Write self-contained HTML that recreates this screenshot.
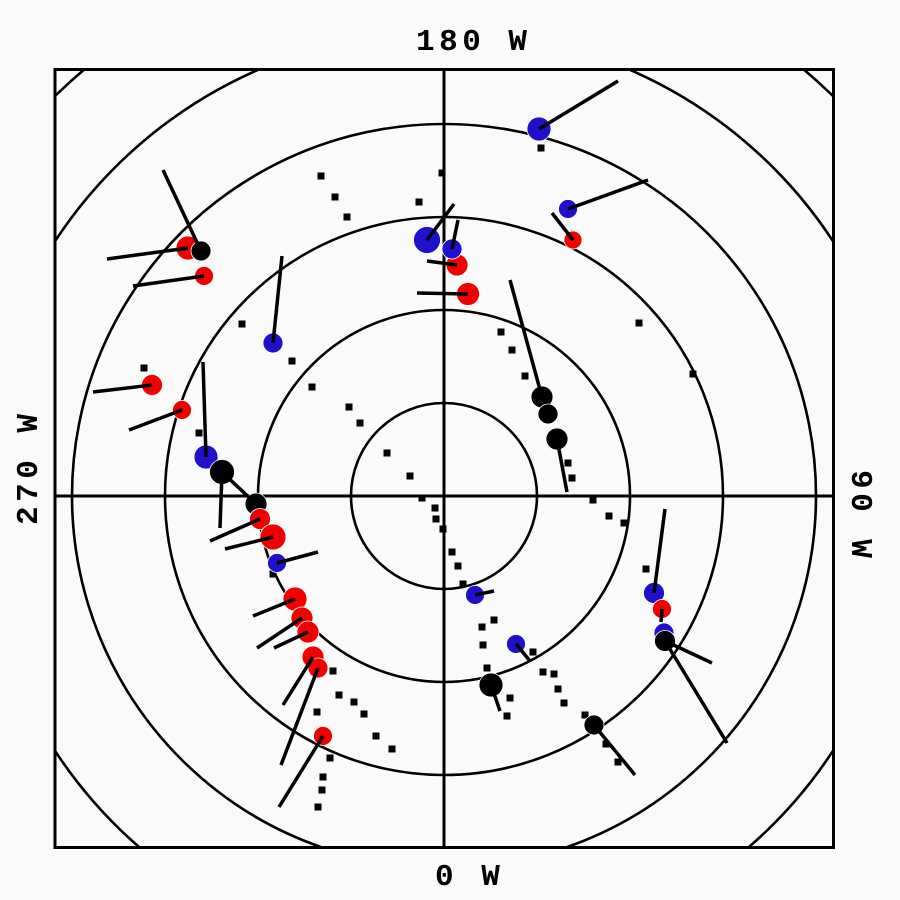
<!DOCTYPE html>
<html>
<head>
<meta charset="utf-8">
<style>
html,body{margin:0;padding:0;background:#fafafa;width:900px;height:900px;overflow:hidden;position:relative;}
svg{display:block;position:absolute;left:0;top:0;}
text{font-family:"Liberation Mono","DejaVu Sans Mono",monospace;font-weight:bold;font-size:31px;fill:#000;letter-spacing:4.5px;}
</style>
</head>
<body>
<svg width="900" height="900" viewBox="0 0 900 900" xmlns="http://www.w3.org/2000/svg">
<rect width="900" height="900" fill="#fafafa"/>
<g fill="none" stroke="#000" stroke-width="2.6">
<circle cx="444" cy="496" r="93"/><circle cx="444" cy="496" r="186"/><circle cx="444" cy="496" r="279"/>
<path d="M567.2 847A372 372 0 1 0 320.8 847"/>
<path d="M257.6 70A465 465 0 0 0 55 241.2M55 750.8A465 465 0 0 0 139 847M749 847A465 465 0 0 0 833 750.8M833 241.2A465 465 0 0 0 630.4 70"/>
<path d="M83.6 70A558 558 0 0 0 55 96M833 96A558 558 0 0 0 804.4 70"/>
<path d="M55 496H833M444 70V847" stroke-width="3"/>
</g>
<rect x="55" y="69.5" width="778.5" height="778" fill="none" stroke="#000" stroke-width="3"/>
<path fill="#000" d="M317.5 172.5h7v7h-7zM331.5 193.5h7v7h-7zM343.5 213.5h7v7h-7zM438.5 169.5h7v7h-7zM415.5 198.5h7v7h-7zM238.5 320.5h7v7h-7zM288.5 357.5h7v7h-7zM308.5 383.5h7v7h-7zM345.5 403.5h7v7h-7zM356.5 419.5h7v7h-7zM140.5 364.5h7v7h-7zM195.5 429.5h7v7h-7zM537.5 144.5h7v7h-7zM635.5 319.5h7v7h-7zM689.5 370.5h7v7h-7zM497.5 328.5h7v7h-7zM508.5 346.5h7v7h-7zM521.5 372.5h7v7h-7zM329.5 667.5h7v7h-7zM335.5 691.5h7v7h-7zM350.5 698.5h7v7h-7zM360.5 710.5h7v7h-7zM313.5 708.5h7v7h-7zM372.5 732.5h7v7h-7zM388.5 745.5h7v7h-7zM326.5 754.5h7v7h-7zM319.5 773.5h7v7h-7zM318.5 786.5h7v7h-7zM314.5 803.5h7v7h-7zM383.5 449.5h7v7h-7zM406.5 472.5h7v7h-7zM418.5 494.5h7v7h-7zM431.5 504.5h7v7h-7zM432.5 515.5h7v7h-7zM439.5 525.5h7v7h-7zM564.5 459.5h7v7h-7zM568.5 474.5h7v7h-7zM589.5 496.5h7v7h-7zM605.5 512.5h7v7h-7zM620.5 519.5h7v7h-7zM448.5 548.5h7v7h-7zM454.5 562.5h7v7h-7zM459.5 580.5h7v7h-7zM642.5 565.5h7v7h-7zM490.5 616.5h7v7h-7zM478.5 623.5h7v7h-7zM479.5 641.5h7v7h-7zM529.5 648.5h7v7h-7zM483.5 664.5h7v7h-7zM539.5 668.5h7v7h-7zM550.5 670.5h7v7h-7zM554.5 685.5h7v7h-7zM560.5 699.5h7v7h-7zM506.5 694.5h7v7h-7zM503.5 712.5h7v7h-7zM581.5 711.5h7v7h-7zM602.5 740.5h7v7h-7zM614.5 758.5h7v7h-7zM269.5 570.5h7v7h-7z"/>
<g stroke="#fff" stroke-width="0.8">
<circle cx="188" cy="248" r="12" fill="#f00000"/>
<circle cx="201" cy="251" r="10" fill="#000"/>
<g fill="#f00000">
<circle cx="204" cy="276" r="9.5"/><circle cx="152" cy="385" r="10.5"/><circle cx="182" cy="410" r="9.5"/>
</g>
<g fill="#2010cc">
<circle cx="273" cy="343" r="10"/><circle cx="206" cy="457" r="12"/>
</g>
<g fill="#000">
<circle cx="222" cy="472" r="12.5"/><circle cx="256" cy="504" r="11"/>
</g>
<g fill="#f00000">
<circle cx="260" cy="519" r="10.5"/><circle cx="273" cy="537" r="13"/>
</g>
<circle cx="277" cy="563" r="9.5" fill="#2010cc"/>
<g fill="#f00000">
<circle cx="295" cy="599" r="12"/><circle cx="302" cy="618" r="11"/><circle cx="308" cy="632" r="11"/>
<circle cx="313" cy="657" r="11"/><circle cx="318" cy="668" r="10"/><circle cx="323" cy="736" r="9.5"/>
</g>
<circle cx="427" cy="240" r="13.5" fill="#2010cc"/>
<circle cx="457" cy="265" r="11" fill="#f00000"/>
<circle cx="452" cy="249" r="10" fill="#2010cc"/>
<circle cx="468" cy="294" r="11.5" fill="#f00000"/>
<g fill="#2010cc">
<circle cx="539" cy="129" r="12"/><circle cx="568" cy="209" r="9.5"/>
</g>
<circle cx="573" cy="240" r="9" fill="#f00000"/>
<g fill="#000">
<circle cx="542" cy="397" r="11"/><circle cx="548" cy="414" r="10"/><circle cx="557" cy="439" r="11"/>
</g>
<g fill="#2010cc">
<circle cx="475" cy="595" r="9.5"/><circle cx="516" cy="644" r="9.5"/>
</g>
<g fill="#000">
<circle cx="491" cy="685" r="12"/><circle cx="594" cy="725" r="10"/>
</g>
<circle cx="654" cy="593" r="10.5" fill="#2010cc"/>
<circle cx="662" cy="609" r="9.5" fill="#f00000"/>
<circle cx="664" cy="633" r="10" fill="#2010cc"/>
<circle cx="665" cy="641" r="10.5" fill="#000"/>
</g>
<path fill="none" stroke="#000" stroke-width="3.5" d="M188 248L107 259M201 251L163 170M204 276L133 286M273 343L282 256M152 385L93 392M182 410L129 430M206 457L203 362M222 472L220 528M222 472L256 504M260 519L210 541M273 537L225 549M277 563L318 552M295 599L253 616M302 618L257 648M308 632L274 648M313 657L283 705M318 668L281 765M323 736L279 807M427 240L454 204M452 249L458 220M457 265L427 261M468 294L417 293M539 129L618 81M568 209L648 180M573 240L552 213M542 397L510 280M557 439L567 492M475 595L494 591M516 644L530 661M491 685L500 711M594 725L635 775M654 593L665 509M662 609L661 622M665 641L712 663M665 641L727 743"/>
<text x="416" y="50">180 W</text>
<text x="435" y="885">0 W</text>
<text transform="translate(37,525) rotate(-90)">270 W</text>
<text transform="translate(852,470) rotate(90)">90 W</text>
</svg>
</body>
</html>
